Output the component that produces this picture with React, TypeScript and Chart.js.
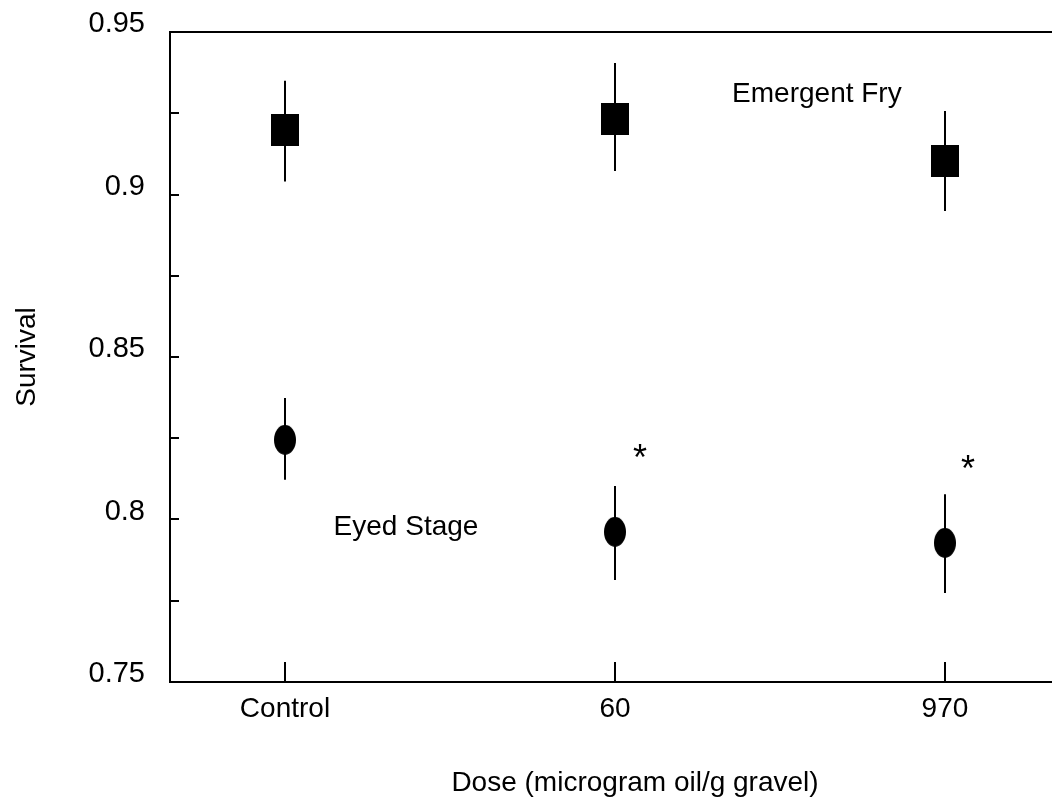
import { useEffect, useRef } from 'react';
import { Chart, registerables } from 'chart.js';

Chart.register(...registerables);

// ---- data ----
const categories = ['Control', '60', '970'];
const doseIndex = [1, 2, 3];

const fryMean = [0.9198, 0.9232, 0.9103];
const fryLow = [0.904, 0.9072, 0.8949];
const fryHigh = [0.935, 0.9405, 0.9257];

const eyedMean = [0.8245, 0.7962, 0.7928];
const eyedLow = [0.8122, 0.7814, 0.7774];
const eyedHigh = [0.8374, 0.8103, 0.8078];

const yMin = 0.75;
const yMax = 0.95;
const yStep = 0.025;

// text annotations placed in data coordinates
const noteTexts = ['Emergent Fry', 'Eyed Stage', '*', '*'];
const noteSizes = [28, 28, 36, 36];
const noteX = [2.612, 1.3667, 2.0758, 3.07];
const noteY = [0.9285, 0.7952, 0.8151, 0.812];

const FONT = '"Liberation Sans", Arial, Helvetica, sans-serif';

export default function App() {
  const ref = useRef<HTMLCanvasElement>(null);

  useEffect(() => {
    const canvas = ref.current;
    if (!canvas) return;

    const square = document.createElement('canvas');
    square.width = 28;
    square.height = 32;
    const sq = square.getContext('2d')!;
    sq.fillStyle = '#000';
    sq.fillRect(0, 0, 28, 32);

    const ellipse = document.createElement('canvas');
    ellipse.width = 22;
    ellipse.height = 30;
    const el = ellipse.getContext('2d')!;
    el.fillStyle = '#000';
    el.beginPath();
    el.ellipse(11, 15, 11, 15, 0, 0, Math.PI * 2);
    el.fill();

    const errorBars = {
      id: 'errorBars',
      beforeDatasetsDraw(chart: any) {
        const { ctx, scales } = chart;
        const xs = scales.x;
        const ys = scales.y;
        ctx.save();
        ctx.strokeStyle = '#000';
        ctx.lineWidth = 2;
        const draw = (lo: number[], hi: number[]) => {
          doseIndex.forEach((d, i) => {
            const px = Math.round(xs.getPixelForValue(d));
            ctx.beginPath();
            ctx.moveTo(px, ys.getPixelForValue(lo[i]));
            ctx.lineTo(px, ys.getPixelForValue(hi[i]));
            ctx.stroke();
          });
        };
        draw(fryLow, fryHigh);
        draw(eyedLow, eyedHigh);
        ctx.restore();
      },
    };

    const frame = {
      id: 'frame',
      afterDraw(chart: any) {
        const { ctx, chartArea, scales } = chart;
        const xs = scales.x;
        const ys = scales.y;
        ctx.save();
        ctx.strokeStyle = '#000';
        ctx.lineWidth = 2;
        // top and right border
        ctx.beginPath();
        ctx.moveTo(chartArea.left, chartArea.top);
        ctx.lineTo(chartArea.right, chartArea.top);
        ctx.lineTo(chartArea.right, chartArea.bottom);
        ctx.stroke();
        // inward y ticks
        ys.ticks.forEach((t: any) => {
          const py = Math.round(ys.getPixelForValue(t.value));
          if (py <= chartArea.top + 1 || py >= chartArea.bottom - 1) return;
          ctx.beginPath();
          ctx.moveTo(chartArea.left, py);
          ctx.lineTo(chartArea.left + 9, py);
          ctx.stroke();
        });
        // inward x ticks
        xs.ticks.forEach((t: any) => {
          const px = Math.round(xs.getPixelForValue(t.value));
          ctx.beginPath();
          ctx.moveTo(px, chartArea.bottom);
          ctx.lineTo(px, chartArea.bottom - 20);
          ctx.stroke();
        });
        // annotations
        ctx.fillStyle = '#000';
        ctx.textAlign = 'center';
        ctx.textBaseline = 'alphabetic';
        noteTexts.forEach((txt, i) => {
          ctx.font = `${noteSizes[i]}px ${FONT}`;
          ctx.fillText(txt, xs.getPixelForValue(noteX[i]), ys.getPixelForValue(noteY[i]));
        });
        ctx.restore();
      },
    };

    const chart = new Chart(canvas, {
      type: 'line',
      data: {
        datasets: [
          {
            label: 'Emergent Fry',
            data: doseIndex.map((d, i) => ({ x: d, y: fryMean[i] })),
            showLine: false,
            pointStyle: square as any,
            pointRadius: 10,
            borderColor: '#000',
            backgroundColor: '#000',
          },
          {
            label: 'Eyed Stage',
            data: doseIndex.map((d, i) => ({ x: d, y: eyedMean[i] })),
            showLine: false,
            pointStyle: ellipse as any,
            pointRadius: 10,
            borderColor: '#000',
            backgroundColor: '#000',
          },
        ],
      },
      options: {
        animation: false,
        responsive: false,
        maintainAspectRatio: false,
        layout: { padding: { top: 32, right: 30, left: 0, bottom: 0 } },
        plugins: { legend: { display: false }, tooltip: { enabled: false } },
        scales: {
          x: {
            type: 'linear',
            min: 0.6515,
            max: 3.47,
            afterBuildTicks: (scale: any) => {
              scale.ticks = doseIndex.map((v) => ({ value: v }));
            },
            afterFit: (scale: any) => {
              scale.height = 128;
              scale.paddingLeft = 0;
              scale.paddingRight = 0;
            },
            grid: { display: false, drawTicks: false },
            border: { display: true, color: '#000', width: 2 },
            ticks: {
              color: '#000',
              font: { family: FONT, size: 28 },
              padding: 10,
              maxRotation: 0,
              autoSkip: false,
              callback: (v: any) => {
                const idx = doseIndex.indexOf(Number(v));
                return idx >= 0 ? categories[idx] : '';
              },
            },
            title: {
              display: true,
              text: 'Dose (microgram oil/g gravel)',
              color: '#000',
              font: { family: FONT, size: 28 },
              padding: { top: 0, bottom: 10 },
            },
          },
          y: {
            type: 'linear',
            min: yMin,
            max: yMax,
            afterFit: (scale: any) => {
              scale.width = 170;
              scale.paddingTop = 0;
              scale.paddingBottom = 0;
            },
            grid: { display: false, drawTicks: false },
            border: { display: true, color: '#000', width: 2 },
            ticks: {
              stepSize: yStep,
              color: '#000',
              font: { family: FONT, size: 29 },
              padding: 25,
              labelOffset: -8,
              callback: (v: any) => {
                const n = Math.round(Number(v) * 1000);
                if (n % 50 !== 0) return '';
                return String(parseFloat((n / 1000).toFixed(3)));
              },
            },
            title: {
              display: true,
              text: 'Survival',
              color: '#000',
              font: { family: FONT, size: 28 },
              padding: { top: 10, bottom: 0 },
            },
          },
        },
      },
      plugins: [errorBars, frame],
    });

    return () => chart.destroy();
  }, []);

  return (
    <div
      style={{
        position: 'absolute',
        left: 0,
        top: 0,
        width: 1052,
        height: 810,
        overflow: 'hidden',
        background: '#fff',
      }}
    >
      <canvas ref={ref} width={1130} height={810} style={{ display: 'block' }} />
    </div>
  );
}
